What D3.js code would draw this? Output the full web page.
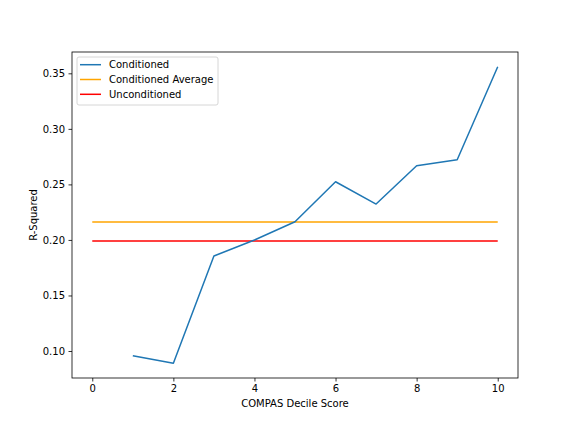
<!DOCTYPE html>
<html>
<head>
<meta charset="utf-8">
<script src="https://cdn.jsdelivr.net/npm/d3@7"></script>
<style>
  body { margin: 0; background: #fff; }
  text { font-family: "DejaVu Sans", sans-serif; }
</style>
</head>
<body>
<div id="chart"></div>
<script>
// values
var deciles = [1, 2, 3, 4, 5, 6, 7, 8, 9, 10];
var conditioned = [0.0958, 0.0890, 0.1855, 0.1999, 0.2164, 0.2524, 0.2323, 0.2668, 0.2722, 0.3559];
var conditionedAverage = 0.2162;
var unconditioned = 0.1990;
var refSpan = [0, 10];
var xTicks = [0, 2, 4, 6, 8, 10];
var yTicks = [0.10, 0.15, 0.20, 0.25, 0.30, 0.35];

var width = 576, height = 432;
var margin = { top: 52, right: 58, bottom: 54, left: 72 };
var w = width - margin.left - margin.right,
    h = height - margin.top - margin.bottom;

var svg = d3.select("#chart")
    .append("svg")
    .attr("width", width)
    .attr("height", height)
    .style("background", "#fff");

var g = svg.append("g")
    .attr("transform", "translate(" + margin.left + "," + margin.top + ")");

var x = d3.scaleLinear().domain([-0.5, 10.5]).range([0, w]);
var y = d3.scaleLinear().domain([0.0757, 0.3692]).range([h, 0]);

// horizontal reference lines
g.append("path")
    .datum(refSpan)
    .attr("fill", "none")
    .attr("stroke", "orange")
    .attr("stroke-width", 1.5)
    .attr("d", d3.line().x(function (d) { return x(d); }).y(function () { return y(conditionedAverage); }));

g.append("path")
    .datum(refSpan)
    .attr("fill", "none")
    .attr("stroke", "red")
    .attr("stroke-width", 1.5)
    .attr("d", d3.line().x(function (d) { return x(d); }).y(function () { return y(unconditioned); }));

// conditioned line
g.append("path")
    .datum(deciles)
    .attr("fill", "none")
    .attr("stroke", "#1f77b4")
    .attr("stroke-width", 1.5)
    .attr("stroke-linejoin", "round")
    .attr("d", d3.line()
        .x(function (d) { return x(d); })
        .y(function (d, i) { return y(conditioned[i]); }));

// axes
var xAxis = g.append("g")
    .attr("transform", "translate(0," + h + ")")
    .call(d3.axisBottom(x).tickValues(xTicks).tickSize(3.5).tickPadding(3.5).tickFormat(d3.format("d")));
var yAxis = g.append("g")
    .call(d3.axisLeft(y).tickValues(yTicks).tickSize(3.5).tickPadding(3.5).tickFormat(d3.format(".2f")));

[xAxis, yAxis].forEach(function (a) {
    a.select(".domain").remove();
    a.selectAll("text").attr("font-size", 10).attr("fill", "#000")
        .style("font-family", "'DejaVu Sans', sans-serif");
    a.selectAll("line").attr("stroke", "#000").attr("stroke-width", 0.8);
});

// frame
g.append("rect")
    .attr("width", w)
    .attr("height", h)
    .attr("fill", "none")
    .attr("stroke", "#000")
    .attr("stroke-width", 0.8);

// labels
svg.append("text")
    .attr("x", margin.left + w / 2)
    .attr("y", 407)
    .attr("text-anchor", "middle")
    .attr("font-size", 10)
    .text("COMPAS Decile Score");

svg.append("text")
    .attr("transform", "translate(37," + (margin.top + h / 2) + ") rotate(-90)")
    .attr("text-anchor", "middle")
    .attr("font-size", 10)
    .text("R-Squared");

// legend
var legendItems = [
    { name: "Conditioned", color: "#1f77b4" },
    { name: "Conditioned Average", color: "orange" },
    { name: "Unconditioned", color: "red" }
];
var legend = g.append("g").attr("transform", "translate(5,5)");
legend.append("rect")
    .attr("width", 141)
    .attr("height", 48)
    .attr("rx", 2)
    .attr("fill", "#fff")
    .attr("fill-opacity", 0.8)
    .attr("stroke", "#ccc")
    .attr("stroke-width", 0.8);
var rows = legend.selectAll(".row")
    .data(legendItems)
    .enter()
    .append("g")
    .attr("transform", function (d, i) { return "translate(0," + (7.7 + i * 14.8) + ")"; });
rows.append("line")
    .attr("x1", 3).attr("x2", 24)
    .attr("stroke", function (d) { return d.color; })
    .attr("stroke-width", 1.5);
rows.append("text")
    .attr("x", 32)
    .attr("dy", "0.35em")
    .attr("font-size", 10)
    .text(function (d) { return d.name; });
</script>
</body>
</html>
